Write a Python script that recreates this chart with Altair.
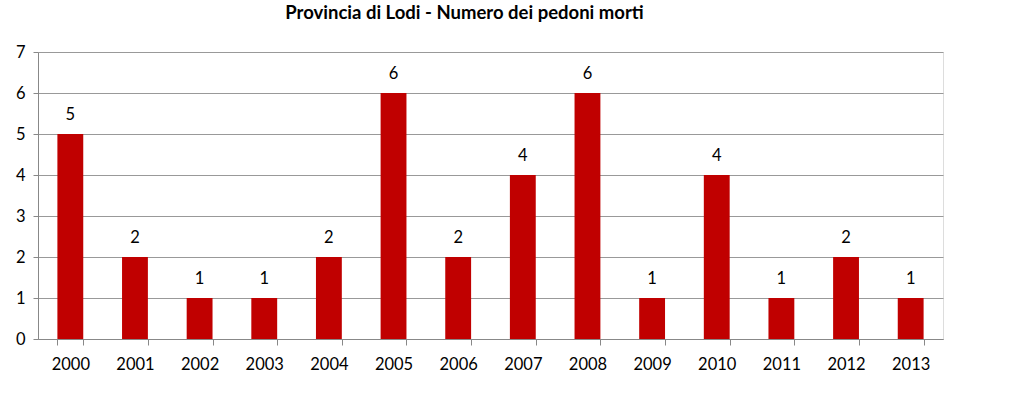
import altair as alt
import pandas as pd

years = [str(y) for y in range(2000, 2014)]
values = [5, 2, 1, 1, 2, 6, 2, 4, 6, 1, 4, 1, 2, 1]

df = pd.DataFrame({"anno": years, "morti": values})

FONT = "Lato"

x = alt.X("anno:N", sort=years, title=None,
          scale=alt.Scale(paddingInner=0.6, paddingOuter=0.3),
          axis=alt.Axis(labelAngle=0, labelFontSize=16.5, labelFont=FONT, labelColor="#000",
                        tickBand="extent", tickSize=6, tickColor="#888", domainColor="#888",
                        labelPadding=11, grid=False))
y = alt.Y("morti:Q", title=None,
          scale=alt.Scale(domain=[0, 7], nice=False),
          axis=alt.Axis(values=list(range(8)), labelFontSize=16.5, labelFont=FONT, labelColor="#000",
                        tickSize=5, tickColor="#888", domainColor="#888", gridColor="#999",
                        labelPadding=8))

bars = alt.Chart(df).mark_bar(color="#C00000").encode(x=x, y=y)
labels = alt.Chart(df).mark_text(dy=-19, fontSize=16.5, font=FONT, color="#000").encode(
    x=alt.X("anno:N", sort=years), y="morti:Q", text="morti:Q")

chart = (bars + labels).properties(
    width=905, height=287,
    title=alt.TitleParams("Provincia di Lodi - Numero dei pedoni morti", fontSize=18.5,
                          font=FONT, fontWeight="bold", color="#000", anchor="middle",
                          dx=-26, offset=22),
    autosize=alt.AutoSizeParams(type="none"),
    padding={"left": 38, "top": 52, "right": 80, "bottom": 61},
).configure_view(stroke=None).configure(background="white")

chart.save("out.html", embed_options={"renderer": "svg", "actions": False})
